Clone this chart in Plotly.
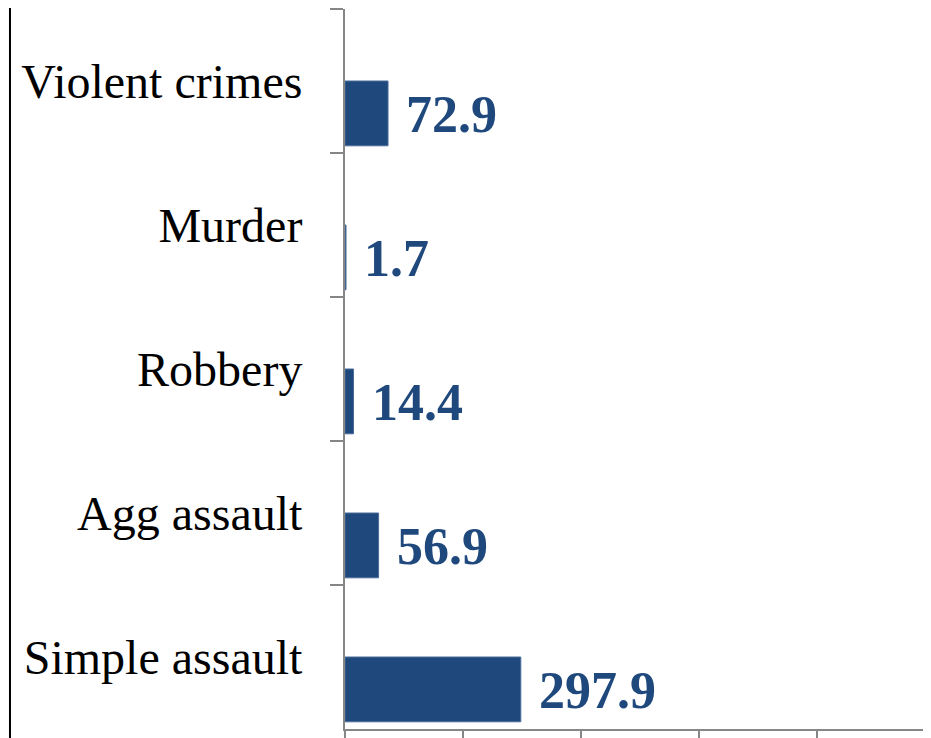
import plotly.graph_objects as go

# Rates per 1,000
categories = ["Violent crimes", "Murder", "Robbery", "Agg assault", "Simple assault"]
values = [72.9, 1.7, 14.4, 56.9, 297.9]
value_labels = ["72.9", "1.7", "14.4", "56.9", "297.9"]
x_ticks = [0, 200, 400, 600, 800, 1000]

BLUE = "#1F497D"
GRAY = "#868686"

fig = go.Figure(go.Bar(
    x=values,
    y=categories,
    orientation="h",
    width=0.45,
    offset=0,
    marker=dict(color=BLUE, line=dict(color="#4A6D9A", width=1)),
    hoverinfo="x+y",
))

# value labels to the right of each bar, centred on the bar
for cat, v, lab in zip(categories, values, value_labels):
    fig.add_annotation(
        x=v, y=cat, text="<b>%s</b>" % lab, showarrow=False,
        xanchor="left", yanchor="middle", xshift=16, yshift=-33,
        font=dict(family="Liberation Serif", size=52, color=BLUE),
    )

# black frame line at the far left
fig.add_shape(type="line", xref="paper", yref="paper",
              x0=-0.5717, x1=-0.5717, y0=-0.05, y1=1.05,
              line=dict(color="black", width=2))

# page body has an 8px margin, so the figure is 8px smaller than the window
fig.update_layout(
    width=923, height=730,
    margin=dict(l=337, r=0, t=1, b=9, autoexpand=False),
    plot_bgcolor="white", paper_bgcolor="white",
    showlegend=False,
    font=dict(family="Liberation Serif", color="black"),
    xaxis=dict(
        range=[0, 993], tickvals=x_ticks, showticklabels=False,
        ticks="outside", ticklen=13, tickwidth=2, tickcolor=GRAY,
        showline=True, linecolor=GRAY, linewidth=2,
        showgrid=False, zeroline=False, automargin=False,
    ),
    yaxis=dict(
        type="category", categoryorder="array", categoryarray=categories,
        autorange="reversed", tickson="boundaries",
        ticks="outside", ticklen=13, tickwidth=2, tickcolor=GRAY,
        showline=True, linecolor=GRAY, linewidth=2, showgrid=False,
        tickfont=dict(family="Liberation Serif", size=48, color="black"),
        ticklabelstandoff=31, automargin=False,
    ),
)

fig.write_html("out.html")
